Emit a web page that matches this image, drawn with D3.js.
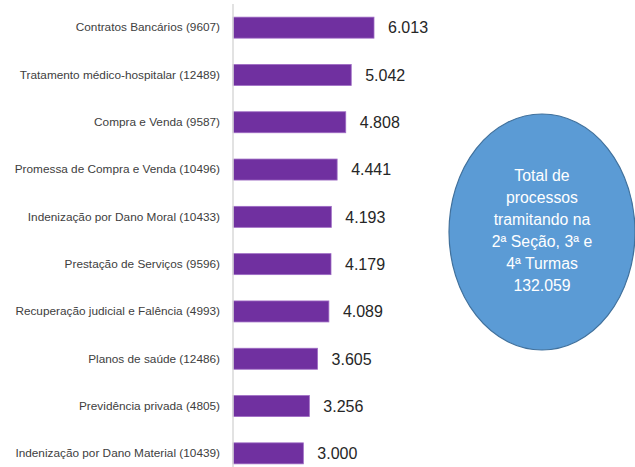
<!DOCTYPE html>
<html>
<head>
<meta charset="utf-8">
<script src="https://cdn.jsdelivr.net/npm/d3@7"></script>
<style>
  body { margin: 0; background: #fff; }
  svg { display: block; font-family: "Liberation Sans", Arial, sans-serif; }
</style>
</head>
<body>
<div class="chart"></div>
<script>
// data
const categories = ["Contratos Bancários (9607)", "Tratamento médico-hospitalar (12489)",
                    "Compra e Venda (9587)", "Promessa de Compra e Venda (10496)",
                    "Indenização por Dano Moral (10433)", "Prestação de Serviços (9596)",
                    "Recuperação judicial e Falência (4993)", "Planos de saúde (12486)",
                    "Previdência privada (4805)", "Indenização por Dano Material (10439)"];
const values = [6013, 5042, 4808, 4441, 4193, 4179, 4089, 3605, 3256, 3000];
const totalLines = ["Total de", "processos", "tramitando na", "2ª Seção, 3ª e", "4ª Turmas", "132.059"];

const w = 635;
const h = 467;

const svg = d3.select(".chart").append("svg")
  .attr("width", w)
  .attr("height", h);

const x0 = 233;
const xScale = d3.scaleLinear()
  .domain([0, 6013])
  .range([x0, 374]);

const yScale = d3.scaleBand()
  .domain(categories)
  .range([4, 477])
  .paddingInner(0.556)
  .paddingOuter(0.278);

const fmt = d3.format(",d");
const ptFmt = (v) => fmt(v).replace(/,/g, ".");

// bars
svg.selectAll("rect.bar")
  .data(values)
  .enter()
  .append("rect")
  .attr("class", "bar")
  .attr("x", xScale(0))
  .attr("y", (d, i) => yScale(categories[i]))
  .attr("width", (d) => xScale(d) - xScale(0))
  .attr("height", yScale.bandwidth())
  .attr("fill", "#7030A0")
  .attr("stroke", "#9E6BC4")
  .attr("stroke-width", 0.8);

// axis line on the left
const yAxis = d3.axisLeft(yScale).tickSize(0).tickPadding(13);
const gy = svg.append("g")
  .attr("transform", "translate(" + x0 + ",0)")
  .call(yAxis);
gy.select(".domain").remove();
gy.append("line")
  .attr("x1", 0).attr("x2", 0)
  .attr("y1", 4).attr("y2", h)
  .attr("stroke", "#D9D9D9")
  .attr("stroke-width", 1.5);
gy.selectAll("text")
  .attr("fill", "#404040")
  .style("font-size", "11.8px")
  .style("font-family", "'Liberation Sans', Arial, sans-serif");

// value labels
svg.selectAll("text.val")
  .data(values)
  .enter()
  .append("text")
  .attr("class", "val")
  .attr("x", (d) => xScale(d) + 14)
  .attr("y", (d, i) => yScale(categories[i]) + yScale.bandwidth() / 2)
  .attr("dy", "0.36em")
  .attr("fill", "#262626")
  .style("font-size", "16px")
  .text((d) => ptFmt(d));

// total ellipse
const cx = 542, cy = 232;
svg.append("ellipse")
  .attr("cx", cx).attr("cy", cy)
  .attr("rx", 93).attr("ry", 118)
  .attr("fill", "#5B9BD5")
  .attr("stroke", "#41719C")
  .attr("stroke-width", 1.2);

svg.selectAll("text.tot")
  .data(totalLines)
  .enter()
  .append("text")
  .attr("class", "tot")
  .attr("x", cx)
  .attr("y", (d, i) => 181 + i * 22)
  .attr("text-anchor", "middle")
  .attr("fill", "#fff")
  .style("font-size", "15.8px")
  .text((d) => d);
</script>
</body>
</html>
